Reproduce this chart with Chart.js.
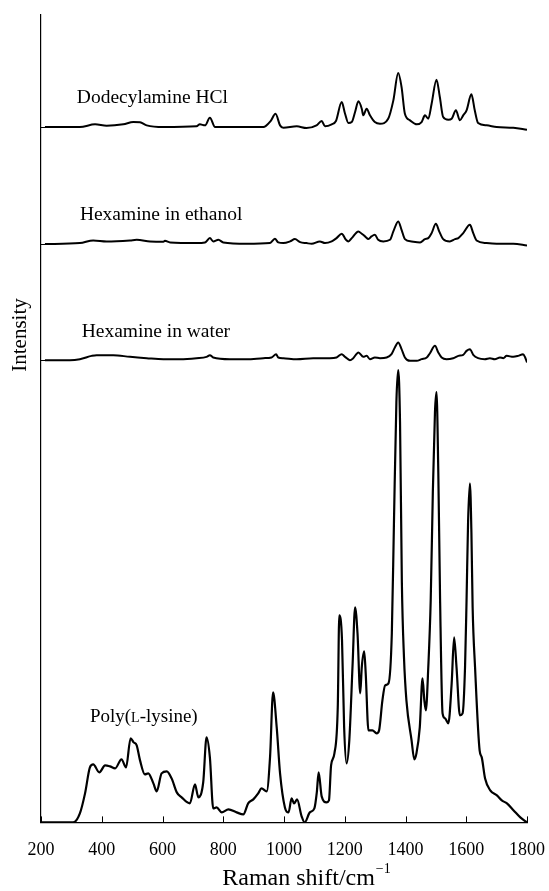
<!DOCTYPE html>
<html><head><meta charset="utf-8">
<script src="https://cdn.jsdelivr.net/npm/chart.js@4/dist/chart.umd.min.js"></script>
<style>html,body{margin:0;padding:0;background:#fff;}canvas{display:block;}</style>
</head><body>
<canvas id="c" width="549" height="891"></canvas>
<script>
// ---- data ----
const ramanTicks = [200, 400, 600, 800, 1000, 1200, 1400, 1600, 1800];
const seriesNames = ['Dodecylamine HCl', 'Hexamine in ethanol', 'Hexamine in water', 'Poly(L-lysine)'];
const seriesOffsets = [695, 578, 462, 0];

const dodecylShift = [213,328,378,416,471,504,526,548,603,712,723,740,756,773,822,899,932,956,972,987,998,1042,1074,1107,1124,1135,1157,1171,1190,1201,1212,1223,1234,1245,1256,1261,1272,1283,1299,1316,1343,1360,1376,1387,1398,1415,1437,1453,1464,1475,1486,1502,1513,1524,1541,1552,1566,1579,1590,1601,1617,1628,1639,1667,1700,1755,1800];
const dodecylIntensity = [0,0,2.7,1.3,2.7,5,4.7,1.7,0,0.7,2.7,1.7,9.3,0,0,0,0,6,13.3,1.7,-0.7,0.7,-1,1.7,6,0.7,2.7,6,25,13.3,4,5,15,25.7,18.3,11.7,18.3,11.7,5,3.3,8.3,26.7,54,40,13.3,6.7,2.7,5,11.7,8.3,23.3,47.3,30,10,7.3,8.3,16.7,6.7,11.7,16.7,32.7,16.7,4,1.7,0,-0.7,-2.7];

const ethanolShift = [213,328,372,416,493,515,559,603,608,625,712,740,756,767,784,800,877,954,970,981,998,1020,1036,1053,1074,1091,1118,1135,1157,1173,1190,1204,1212,1223,1245,1256,1267,1278,1288,1299,1310,1327,1349,1360,1376,1387,1398,1420,1448,1464,1475,1486,1500,1511,1524,1546,1563,1574,1590,1612,1623,1634,1667,1700,1755,1800];
const ethanolIntensity = [0,1,3.7,2.7,3.7,4.3,2.7,2.3,3.3,1.7,1,1.7,6,2.7,4.3,1.7,0.3,1,5.3,1.7,1,2.7,5,2,1,0.3,2.7,1,2.7,6,10.3,4.3,2.7,6,12.7,10.3,7.7,5,7.7,9.3,4.3,2.7,4.3,12.7,22.7,14.3,5,2.7,1.7,5,6,11,20.3,12.7,5,2.7,5,6,11,19.3,11,3.7,1,0.3,0.3,-1.3];

const waterShift = [213,295,328,367,383,438,493,548,603,658,712,745,756,767,822,877,932,959,974,981,998,1042,1096,1151,1173,1190,1201,1217,1228,1245,1261,1272,1283,1299,1316,1338,1354,1365,1376,1387,1398,1415,1437,1453,1470,1480,1497,1508,1519,1535,1557,1574,1590,1601,1612,1623,1639,1661,1678,1694,1711,1722,1733,1755,1771,1787,1794,1800];
const waterIntensity = [0,0,1,4.3,5,5,3.3,2,1,1,2,3.3,5,2.7,1,1,2,2.7,6,2.7,2,1,2,2,2.7,6,3.3,0,2,7.7,3.3,4.3,1,2.7,2,2.7,6,12.7,17.7,11,2.7,-0.7,-0.7,1,2.7,6.7,14.3,7.7,2.7,1,2,4.3,5.3,9.3,11,5.3,2,1,2,1,2.7,2,4.3,3.3,4.3,6,2.7,-2.3];

const polyShift = [200,306,328,345,361,372,392,411,427,444,465,480,495,505,515,526,542,553,570,581,597,614,630,647,663,690,707,718,734,745,756,767,778,795,817,844,866,882,899,915,926,943,954,964,976,987,1003,1015,1025,1033,1043,1058,1068,1085,1100,1108,1114,1124,1140,1148,1155,1166,1177,1182,1191,1198,1206,1215,1226,1234,1242,1251,1256,1264,1269,1278,1291,1305,1313,1324,1333,1344,1355,1362,1370,1376,1382,1388,1395,1403,1420,1429,1436,1447,1456,1462,1467,1475,1483,1490,1497,1502,1508,1514,1522,1530,1541,1552,1560,1568,1579,1588,1596,1601,1606,1612,1617,1621,1629,1644,1651,1662,1679,1701,1717,1734,1756,1778,1800];
const polyIntensity = [0,0,9,29,55,58,50,57,56,54,63,55,84,80,77,62,48,49,39,31,49,51,44,30,25,19,38,25,40,85,65,14,15,10,13,10,8,19,23,29,34,31,65,130,95,49,15,10,24,19,23,6,0,10,14,30,50,26,20,22,57,69,115,207,182,95,59,82,159,215,189,129,155,171,149,92,92,89,92,122,137,139,189,300,420,452,400,240,165,122,82,63,69,95,144,122,112,155,222,330,410,430,350,220,109,104,99,139,185,155,107,109,155,222,300,339,290,215,155,72,65,44,32,27,22,19,12,5,0];

// ---- build datasets ----
function pts(xs, ys, off) { return xs.map((v, i) => ({ x: v, y: ys[i] + off })); }
const seriesData = [
  pts(dodecylShift, dodecylIntensity, seriesOffsets[0]),
  pts(ethanolShift, ethanolIntensity, seriesOffsets[1]),
  pts(waterShift, waterIntensity, seriesOffsets[2]),
  pts(polyShift, polyIntensity, seriesOffsets[3])
];

const SERIF = '"Liberation Serif", "Times New Roman", serif';

const decorPlugin = {
  id: 'decor',
  afterDraw(chart) {
    const { ctx, chartArea: a, scales: { x, y } } = chart;
    ctx.save();
    ctx.strokeStyle = '#000';
    ctx.lineWidth = 1;
    // inward x ticks
    x.ticks.forEach(t => {
      const px = Math.round(x.getPixelForValue(t.value)) + 0.5;
      ctx.beginPath(); ctx.moveTo(px, a.bottom); ctx.lineTo(px, a.bottom - 6); ctx.stroke();
    });
    // baseline ticks on the y axis
    seriesOffsets.slice(0, 3).forEach(o => {
      const py = Math.round(y.getPixelForValue(o)) + 0.5;
      ctx.beginPath(); ctx.moveTo(a.left, py); ctx.lineTo(a.left + 6, py); ctx.stroke();
    });
    // series labels
    ctx.fillStyle = '#000';
    ctx.textBaseline = 'middle';
    ctx.textAlign = 'left';
    const labelPos = [[318, 29], [328, 29], [334, 28], [361, 105]];
    seriesNames.forEach((name, i) => {
      let px = x.getPixelForValue(labelPos[i][0]);
      const py = y.getPixelForValue(seriesOffsets[i] + labelPos[i][1]);
      if (name.indexOf('(L-') >= 0) {
        const k = name.indexOf('L-');
        const parts = [[name.slice(0, k), 19], ['L', 14], [name.slice(k + 1), 19]];
        parts.forEach(([s, f]) => {
          ctx.font = f + 'px ' + SERIF;
          ctx.fillText(s, px, py + (f < 19 ? 1 : 0));
          px += ctx.measureText(s).width;
        });
      } else {
        ctx.font = '19.5px ' + SERIF;
        ctx.fillText(name, px, py);
      }
    });
    // x title with superscript
    const main = 'Raman shift/cm', sup = '\u22121';
    ctx.font = '24px ' + SERIF;
    const w1 = ctx.measureText(main).width;
    ctx.font = '14px ' + SERIF;
    const w2 = ctx.measureText(sup).width;
    let tx = 306 - (w1 + w2) / 2;
    const ty = a.bottom + 56;
    ctx.font = '24px ' + SERIF;
    ctx.fillText(main, tx, ty);
    ctx.font = '14px ' + SERIF;
    ctx.fillText(sup, tx + w1 + 1, ty - 9);
    // y title
    ctx.save();
    ctx.translate(20, 335);
    ctx.rotate(-Math.PI / 2);
    ctx.textAlign = 'center';
    ctx.font = '21px ' + SERIF;
    ctx.fillText('Intensity', 0, 0);
    ctx.restore();
    ctx.restore();
  }
};

new Chart(document.getElementById('c'), {
  type: 'line',
  data: {
    datasets: seriesData.map((d, i) => ({
      label: seriesNames[i],
      data: d,
      borderColor: '#000',
      borderWidth: i === 3 ? 2.2 : 2,
      pointRadius: 0,
      fill: false,
      cubicInterpolationMode: 'monotone'
    }))
  },
  options: {
    responsive: false,
    animation: false,
    events: [],
    layout: { padding: { left: 41, right: 22, top: 15, bottom: 28 } },
    plugins: { legend: { display: false }, tooltip: { enabled: false } },
    scales: {
      x: {
        type: 'linear',
        min: 200, max: 1800,
        afterBuildTicks: s => { s.ticks = ramanTicks.map(v => ({ value: v })); },
        grid: { display: true, drawOnChartArea: false, drawTicks: true, tickLength: 15, tickColor: 'rgba(0,0,0,0)' },
        border: { display: true, color: '#000', width: 1.2 },
        ticks: { color: '#000', font: { family: SERIF, size: 18 }, padding: 2, maxRotation: 0, autoSkip: false,
                 callback: v => String(v) }
      },
      y: {
        type: 'linear',
        min: 0, max: 807,
        grid: { display: false, drawTicks: false },
        border: { display: true, color: '#000', width: 1.2 },
        ticks: { display: false }
      }
    }
  },
  plugins: [decorPlugin]
});
</script>
</body></html>
